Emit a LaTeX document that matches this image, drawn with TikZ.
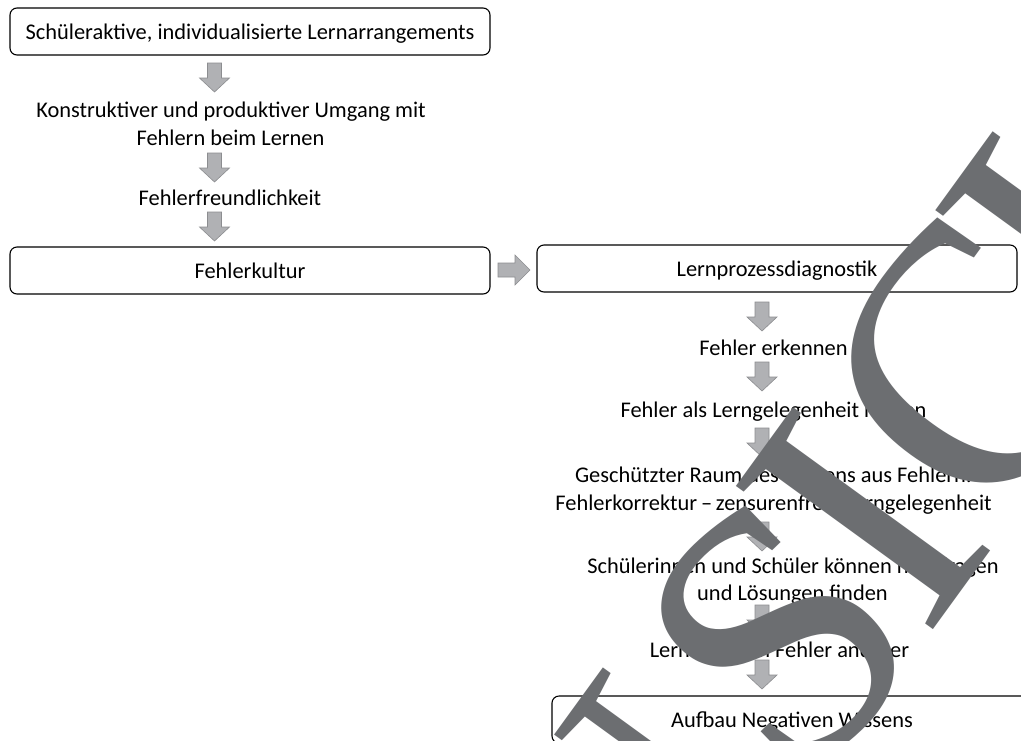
\documentclass[tikz,border=0pt]{standalone}
\usepackage{fontspec}
\setmainfont{Carlito}
\newfontfamily\wmfont{Liberation Serif}
\newcommand\txtfont{\fontsize{22.4}{28}\selectfont}
\definecolor{wmgray}{RGB}{108,110,113}
\definecolor{arrfill}{RGB}{176,177,180}
\definecolor{arrdraw}{RGB}{140,141,144}
\tikzset{
  boxnode/.style={draw=black, line width=1.1pt, rounded corners=7pt,
    minimum width=480pt, minimum height=47pt, inner sep=0pt,
    text height=16pt, text depth=0pt, font=\txtfont},
  lbl/.style={anchor=base, inner sep=0pt, font=\txtfont},
  blockarrow/.style={fill=arrfill, draw=arrdraw, line width=0.6pt},
  pics/downarr/.style={code={\path[blockarrow] (-7,0) -- (7,0) -- (7,15) -- (15,15) -- (0,29) -- (-15,15) -- (-7,15) -- cycle;}},
  pics/rightarr/.style={code={\path[blockarrow] (0,-7) -- (17,-7) -- (17,-15) -- (32,0) -- (17,15) -- (17,7) -- (0,7) -- cycle;}},
  wmletter/.style={anchor=base, inner sep=0pt, transform shape, text=wmgray,
    font={\wmfont\fontsize{372}{372}\selectfont}},
}
\begin{document}
\begin{tikzpicture}[x=1pt,y=-1pt]
\useasboundingbox (0,0) rectangle (1021,740);
\clip (0,0) rectangle (1021,740);
\fill[white] (0,0) rectangle (1021,740);
% left column
\node[boxnode] (b1) at (250,31.5) {Schüleraktive, individualisierte Lernarrangements};
\pic at (214.5,63) {downarr};
\node[lbl] (t1a) at (231,117) {Konstruktiver und produktiver Umgang mit};
\node[lbl] (t1b) at (230.5,145) {Fehlern beim Lernen};
\pic at (214.5,153) {downarr};
\node[lbl] (t2) at (230,205) {Fehlerfreundlichkeit};
\pic at (214.5,212) {downarr};
\node[boxnode] (b2) at (250,270.5) {Fehlerkultur};
\pic at (498,270) {rightarr};
% right column
\node[boxnode] (b3) at (777,268.5) {Lernprozessdiagnostik};
\pic at (762,302) {downarr};
\node[lbl] (r1) at (773.5,355) {Fehler erkennen};
\pic at (762,362) {downarr};
\node[lbl] (r2) at (773.5,417) {Fehler als Lerngelegenheit nutzen};
\pic at (762,428) {downarr};
\node[lbl] (r3a) at (773.5,482) {Geschützter Raum des Lernens aus Fehlern:};
\node[lbl] (r3b) at (773.5,510) {Fehlerkorrektur\,–\,zensurenfreie Lerngelegenheit};
\pic at (762,522) {downarr};
\node[lbl] (r4a) at (793,573) {Schülerinnen und Schüler können nachfragen};
\node[lbl] (r4b) at (792.5,600) {und Lösungen finden};
\pic at (762,605) {downarr};
\node[lbl] (r5) at (779.5,657) {Lernen durch Fehler anderer};
\pic at (762,660) {downarr};
\node[boxnode] (b4) at (792,719.5) {Aufbau Negativen Wissens};
% watermark "ANSICHT"
\begin{scope}[shift={(864,514)}, rotate=54, x=1pt, y=1pt]
  \node[wmletter] (wmA) at (-672,-123) {A};
  \node[wmletter] (wmN) at (-403,-123) {N};
  \node[wmletter, anchor=center, rotate=-10] (wmS) at (-150,-4) {S};
  \node[wmletter] (wmI) at (-4,-124) {I};
  \node[wmletter] (wmC) at (184,-123) {C};
  \node[wmletter] (wmH) at (411,-123) {H};
  \node[wmletter] (wmT) at (660,-123) {T};
\end{scope}
\end{tikzpicture}
\end{document}
